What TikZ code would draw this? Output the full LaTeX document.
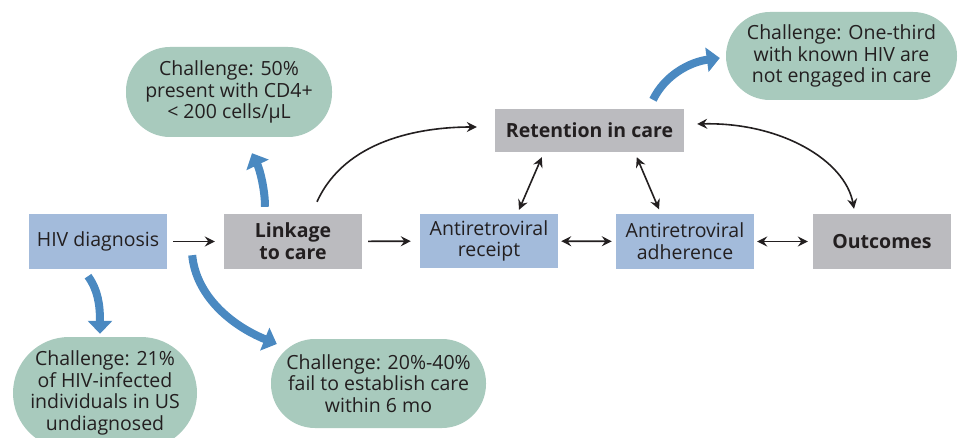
\documentclass[tikz,border=0pt]{standalone}
\usepackage{fontspec}
\setmainfont{Open Sans}
\usetikzlibrary{arrows.meta,calc}
\definecolor{boxblue}{HTML}{A3BBDB}
\definecolor{boxgray}{HTML}{BBBBBF}
\definecolor{chgreen}{HTML}{A8CABD}
\definecolor{arrblue}{HTML}{4A89C1}
\definecolor{ink}{HTML}{231F20}
\tikzset{
  blacktip/.tip={Stealth[length=10pt,width=10pt,inset=3.5pt]},
  bluetip/.tip={Triangle[length=13pt,width=24pt]},
}
\begin{document}
\begin{tikzpicture}[x=1pt,y=-1pt,
  every node/.style={text=ink, font=\fontsize{19.5}{21.7}\selectfont, align=center, inner sep=0pt},
  bluebox/.style={fill=boxblue, minimum width=138pt, minimum height=54pt},
  graybox/.style={fill=boxgray, minimum height=54pt, font=\fontsize{19.5}{21.7}\selectfont\bfseries},
  challenge/.style={fill=chgreen, rounded corners=44pt},
  flow/.style={draw=ink, line width=1.6pt, -blacktip},
  biflow/.style={draw=ink, line width=1.6pt, blacktip-blacktip},
  bigarrow/.style={draw=arrblue, line width=8pt, -bluetip}
]
\clip (0,0) rectangle (960,438);
\fill[white] (0,0) rectangle (960,438);

% main boxes
\node[bluebox] (diag) at (98,241.5) {HIV diagnosis};
\node[graybox, minimum width=138pt] (link) at (293,241.5) {Linkage\\to care};
\node[bluebox] (recp) at (489,241) {Antiretroviral\\receipt};
\node[bluebox] (adh) at (685,241.5) {Antiretroviral\\adherence};
\node[graybox, minimum width=138pt] (out) at (882,241.5) {Outcomes};
\node[graybox, minimum width=189pt, minimum height=43pt] (ret) at (589.5,130.5) {Retention in care};

% challenges
\node[challenge, minimum width=206pt, minimum height=90pt] (c1) at (229,92) {Challenge: 50\%\\present with CD4+\\< 200 cells/µL};
\node[challenge, minimum width=231pt, minimum height=88pt] (c2) at (841.5,56) {Challenge: One-third\\with known HIV are\\not engaged in care};
\node[challenge, minimum width=184pt, minimum height=112pt, rounded corners=56pt] (c3) at (105,393) {Challenge: 21\%\\of HIV-infected\\individuals in US\\undiagnosed};
\node[challenge, minimum width=215pt, minimum height=89pt] (c4) at (378.5,383.5) {Challenge: 20\%-40\%\\fail to establish care\\within 6 mo};

% black connectors
\draw[flow, shorten <=6pt, shorten >=9pt] (diag) -- (link);
\draw[flow, shorten <=6pt, shorten >=9pt] (link) -- (recp);
\draw[biflow, shorten <=3pt, shorten >=4pt] (recp) -- (adh);
\draw[biflow, shorten <=3pt, shorten >=5pt] (adh) -- (out);
\draw[biflow] ($(ret.south west)+(47,5)$) -- ($(recp.north)+(30,-4)$);
\draw[biflow] ($(ret.south west)+(142,5)$) -- ($(adh.north)+(-26,-5)$);
\draw[biflow] ($(ret.east)+(13,-6.5)$) .. controls (780,122) and (845,160) .. ($(out.north)+(-28,-5.5)$);
\draw[flow] ($(link.north)+(24,-12.5)$) .. controls (345,140) and (420,127) .. ($(ret.west)+(-18,-3.5)$);

% blue challenge arrows
\draw[bigarrow] ($(diag.south)+(-10,7.5)$) .. controls (98,290) and (100,305) .. ($(c3.north)+(-5,-3)$);
\draw[bigarrow] ($(diag.south east)+(25,-13.5)$) .. controls (196,295) and (230,325) .. ($(c4.west)+(6,-39.5)$);
\draw[bigarrow] ($(link.north)+(-28,-7.5)$) .. controls (265,190) and (260,170) .. ($(c1.south)+(23,16)$);
\draw[bigarrow] ($(ret.north)+(63.5,-9)$) .. controls (665,75) and (690,62) .. ($(c2.west)+(-6,2)$);
\end{tikzpicture}
\end{document}
